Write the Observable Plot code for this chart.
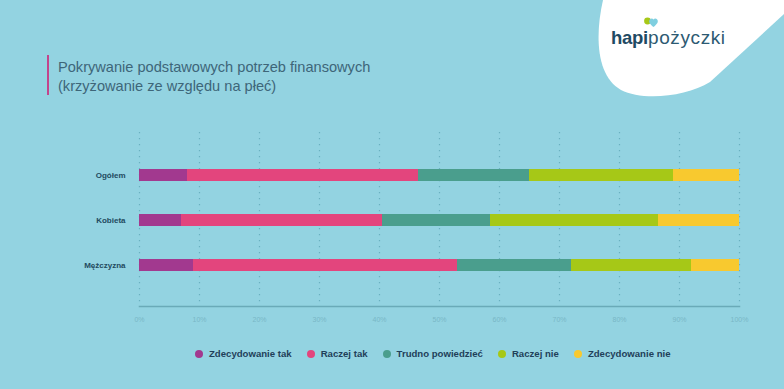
<!DOCTYPE html>
<html>
<head>
<meta charset="utf-8">
<script src="https://cdn.jsdelivr.net/npm/d3@7"></script>
<script src="https://cdn.jsdelivr.net/npm/@observablehq/plot@0.6"></script>
<style>
  html, body { margin: 0; padding: 0; }
  body { width: 784px; height: 389px; overflow: hidden; }
  #wrap { position: relative; width: 784px; height: 389px; background: #93d3e1; font-family: "Liberation Sans", Arial, sans-serif; }
  #chart { position: absolute; left: 0; top: 0; }
  #title { position: absolute; left: 58px; top: 58px; font-size: 14.6px; line-height: 19px; color: #3e6679; }
  #bar { position: absolute; left: 47px; top: 55px; width: 2px; height: 40px; background: #c2448c; }
  #legend { position: absolute; left: 195px; top: 348px; display: flex; align-items: center; font-size: 9.6px; font-weight: bold; color: #1f4059; }
  .item { display: flex; align-items: center; margin-right: 15px; }
  .dot { width: 8px; height: 8px; border-radius: 50%; margin-right: 6px; }
  #logo { position: absolute; left: 0; top: 0; }
</style>
</head>
<body>
<div id="wrap">
  <svg id="logo" width="784" height="389">
    <path d="M603,0 C595,35 596,76 621,90 C642,101 686,97 710,82 L784,14 L784,0 Z" fill="#ffffff"/>
    <circle cx="647.5" cy="21" r="3.4" fill="#a7c817"/>
    <path d="M653.5,27 C649.5,23.8 648.3,21.6 649.8,19.4 C651.1,17.9 652.8,18.3 653.5,19.5 C654.2,18.3 655.9,17.9 657.2,19.4 C658.7,21.6 657.5,23.8 653.5,27 Z" fill="#7fcfe0"/>
    <text x="611" y="44" font-family="Liberation Sans, Arial, sans-serif" font-weight="bold" font-size="18.5" fill="#1f4a63" letter-spacing="-0.3">hapi</text>
    <text x="648" y="44" font-family="Liberation Sans, Arial, sans-serif" font-size="19" fill="#2d5a72" letter-spacing="0.6">pożyczki</text>
  </svg>
  <div id="bar"></div>
  <div id="title">Pokrywanie podstawowych potrzeb finansowych<br>(krzyżowanie ze względu na płeć)</div>
  <div id="chart"></div>
  <div id="legend"></div>
</div>
<script>
const categories = ["Ogółem", "Kobieta", "Mężczyzna"];
const seriesNames = ["Zdecydowanie tak", "Raczej tak", "Trudno powiedzieć", "Raczej nie", "Zdecydowanie nie"];
const seriesColors = ["#a2398f", "#e3457d", "#4a9e8d", "#a6c817", "#f8c92f"];
const zdecydowanieTak = [8, 7, 9];
const raczejTak = [38.5, 33.5, 44];
const trudnoPowiedziec = [18.5, 18, 19];
const raczejNie = [24, 28, 20];
const zdecydowanieNie = [11, 13.5, 8];
const tickValues = [0, 10, 20, 30, 40, 50, 60, 70, 80, 90, 100];

const seriesValues = [zdecydowanieTak, raczejTak, trudnoPowiedziec, raczejNie, zdecydowanieNie];
const rows = [];
seriesNames.forEach((s, si) => {
  categories.forEach((c, ci) => {
    rows.push({ category: c, series: s, value: seriesValues[si][ci] });
  });
});

const chart = Plot.plot({
  width: 784,
  height: 340,
  marginLeft: 139,
  marginRight: 45,
  marginTop: 132,
  marginBottom: 34,
  style: { background: "transparent", fontFamily: "Liberation Sans, Arial, sans-serif", overflow: "visible" },
  x: { domain: [0, 100], label: null },
  y: { domain: categories, paddingInner: 0.727, paddingOuter: 0.765, align: 0.52, label: null },
  color: { domain: seriesNames, range: seriesColors },
  marks: [
    Plot.ruleX(tickValues, { stroke: "#5fa8b8", strokeOpacity: 0.8, strokeWidth: 1.2, strokeDasharray: "1.2,4.8" }),
    Plot.barX(rows, Plot.stackX({ x: "value", y: "category", fill: "series", order: seriesNames })),
    Plot.frame({ anchor: "bottom", stroke: "#6aaab8", strokeWidth: 1.5 }),
    Plot.axisX({ ticks: tickValues, tickFormat: d => d + "%", tickSize: 0, tickPadding: 11, fontSize: 7, color: "#79b7c6", stroke: "none", label: null }),
    Plot.axisY({ tickSize: 0, tickPadding: 14, fontSize: 8, fontWeight: "bold", color: "#1f4a5e", label: null })
  ]
});
document.getElementById("chart").appendChild(chart);

const legend = document.getElementById("legend");
seriesNames.forEach((s, i) => {
  const item = document.createElement("div");
  item.className = "item";
  const dot = document.createElement("div");
  dot.className = "dot";
  dot.style.background = seriesColors[i];
  const label = document.createElement("span");
  label.textContent = s;
  item.appendChild(dot);
  item.appendChild(label);
  legend.appendChild(item);
});
</script>
</body>
</html>
